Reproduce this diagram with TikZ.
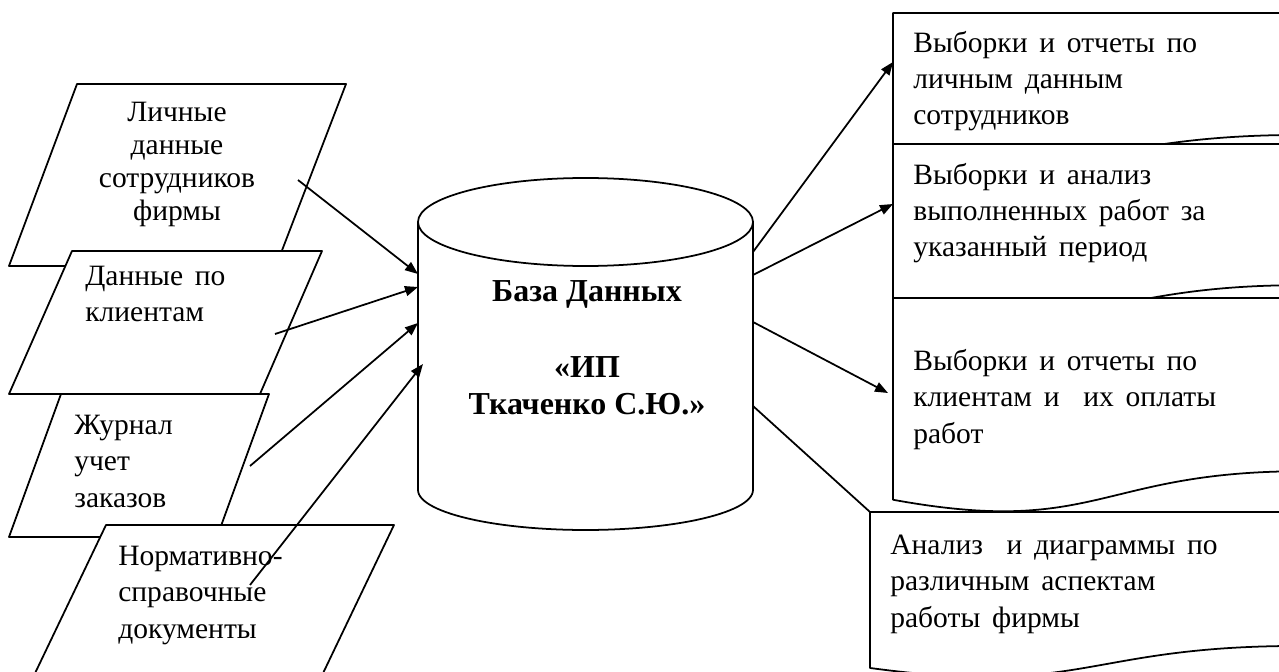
\documentclass[tikz,border=0pt]{standalone}
\usepackage{fontspec}
\setmainfont{Liberation Serif}
\usetikzlibrary{arrows.meta}

\tikzset{
  shapebox/.style={draw, fill=white, line width=1pt},
  txt/.style={inner sep=0pt, align=left, anchor=base west,
    font={\fontsize{16.8}{20.5}\selectfont\spaceskip=0.4em\relax}},
  flow/.style={line width=1pt, -{Triangle[length=0.26cm, width=0.2cm]}}
}
% document shape: x, y, width, height
\newcommand{\docshape}[4]{%
  \path[shapebox] (#1,#2) -- ({#1+#3},#2) -- ({#1+#3},{#2+0.802*#4})
    .. controls ({#1+#3/2},{#2+0.802*#4}) and ({#1+#3/2},{#2+1.1075*#4}) .. (#1,{#2+0.934*#4}) -- cycle;}

\begin{document}
\begin{tikzpicture}[x=0.02cm, y=-0.02cm, line join=round]
    \useasboundingbox (0,0) rectangle (1279,672);

    % Input data - parallelograms (text anchored at last line)
    \path[shapebox] (77,84) -- (346,84) -- (276,266) -- (9,266) -- cycle;
    \node[txt, align=center, anchor=base, font=\fontsize{16.8}{18.8}\selectfont] (staff) at (177,221)
      {Личные\\данные\\сотрудников\\фирмы};
    \path[shapebox] (72,251) -- (322,251) -- (260,394) -- (9,394) -- cycle;
    \node[txt] (clients) at (85,322) {Данные по\\клиентам};
    \path[shapebox] (61,394) -- (269,394) -- (217,537) -- (9,537) -- cycle;
    \node[txt] (orders) at (74,507) {Журнал\\учет\\заказов};
    \path[shapebox] (106,525) -- (394,525) -- (315,690) -- (27,690) -- cycle;
    \node[txt] (norms) at (118,638) {Нормативно-\\справочные\\документы};

    % Database - cylinder
    \path[shapebox] (418,222) -- (418,490)
      -- plot[domain=180:0, samples=60] ({585.5+167.5*cos(\x)}, {490+40*sin(\x)})
      -- (753,222) -- cycle;
    \path[shapebox] (585.5,222) ellipse [x radius=167.5, y radius=44];
    \node[txt, align=center, anchor=base, font=\fontsize{18.2}{21.5}\selectfont\bfseries] (db) at (587,415)
      {База Данных\\[21.5pt]«ИП\\Ткаченко С.Ю.»};

    % Output reports - document shapes
    \docshape{893}{13}{410}{152}
    \node[txt] (rep1) at (913,125) {Выборки и отчеты по\\личным данным\\сотрудников};
    \docshape{893}{144}{410}{176}
    \node[txt] (rep2) at (913,257) {Выборки и анализ\\выполненных работ за\\указанный период};
    \docshape{893}{298}{410}{216}
    \node[txt] (rep3) at (913,443) {Выборки и отчеты по\\клиентам и\ \ их оплаты\\работ};
    \docshape{870}{512}{430}{167}
    \node[txt] (rep4) at (890,627) {Анализ\ \ и диаграммы по\\различным аспектам\\работы фирмы};

    % Caption (cut by the page edge)
    \node[txt, font=\fontsize{15}{16}\selectfont] (cap) at (487,692) {Рисунок 12 – Инф};

    % Connector ends
    \coordinate (s1) at (298,180); \coordinate (e1) at (418,274);
    \coordinate (s2) at (275,334); \coordinate (e2) at (418,287);
    \coordinate (s3) at (250,466); \coordinate (e3) at (418,323);
    \coordinate (s4) at (250,585); \coordinate (e4) at (423,364);
    \coordinate (o1) at (753,252); \coordinate (r1) at (893,62);
    \coordinate (o2) at (753,275); \coordinate (r2) at (893,204);
    \coordinate (o3) at (753,322); \coordinate (r3) at (888,393);
    \coordinate (o4) at (753,406); \coordinate (r4) at (870,512);

    % Arrows
    \draw[flow] (s1) -- (e1);
    \draw[flow] (s2) -- (e2);
    \draw[flow] (s3) -- (e3);
    \draw[flow] (s4) -- (e4);
    \draw[flow] (o1) -- (r1);
    \draw[flow] (o2) -- (r2);
    \draw[flow] (o3) -- (r3);
    \draw[line width=1pt] (o4) -- (r4);
\end{tikzpicture}
\end{document}
